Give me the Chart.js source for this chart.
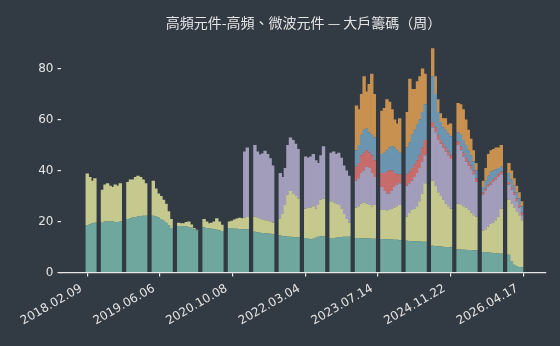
<!DOCTYPE html>
<html>
<head>
<meta charset="utf-8">
<script src="https://cdn.jsdelivr.net/npm/chart.js@4.4.0/dist/chart.umd.min.js"></script>
<style>
  html, body { margin: 0; padding: 0; background: #323a43; }
  #wrap { width: 560px; height: 346px; }
</style>
</head>
<body>
<div id="wrap"><canvas id="chart" width="560" height="346"></canvas></div>
<script>
const TITLE = '高頻元件-高頻、微波元件 — 大戶籌碼（周）';
const TICK_LABELS = ['2018.02.09', '2019.06.06', '2020.10.08', '2022.03.04', '2023.07.14', '2024.11.22', '2026.04.17'];
const TICK_STEP = 28.61;   // samples between labelled ticks

// one value per sample (about a week), null = no bar
const TEAL = [
  18.6, 18.8, 19.3, 19.5, null, null,
  19.5, 20, 20, 20, 20, 19.8, 19.8, 20, null, null,
  21, 21.3, 21.6, 21.8, 22, 22.2, 22.3, 22.3, null, null,
  22.3, 22, 21.6, 21, 20.3, 19.5, 18.5, 17.5, null, null,
  18.2, 18.2, 18, 18, 17.8, 17.6, 17, 16.5, null, null,
  17.8, 17.5, 17.3, 17.2, 17, 16.8, 16.6, 16.3, null, null,
  17.5, 17.3, 17.2, 17.2, 17.1, 17, 17, 17, null, null,
  16, 15.8, 15.6, 15.5, 15.4, 15.3, 15.2, 15, null, null,
  14.5, 14.3, 14.2, 14, 14, 13.8, 13.8, 13.7, null, null,
  13.5, 13.2, 13, 13.2, 13.6, 14, 14.2, 14.2, null, null,
  13.5, 13.5, 13.6, 13.7, 13.8, 14, 14, 14, null, null,
  13.5, 13.5, 13.4, 13.4, 13.3, 13.3, 13.2, 13.2, null, null,
  13.1, 13, 13, 12.9, 12.9, 12.8, 12.8, 12.7, null, null,
  12.5, 12.4, 12.3, 12.3, 12.2, 12.2, 12.1, 12.1, null, null,
  10.5, 10.4, 10.3, 10.2, 10.1, 10, 10, 9.9, null, null,
  9, 9, 8.9, 8.9, 8.8, 8.8, 8.7, 8.7, null, null,
  8, 7.9, 7.8, 7.7, 7.6, 7.5, 7.5, 7.4, null, null,
  7, 4.5, 3, 2.5, 2.2, 2
];
const YELLOW = [
  20.2, 18.7, 16.7, 17.5, null, null,
  13, 14.5, 15, 14, 13.5, 14.7, 14.2, 15, null, null,
  14.5, 15.2, 14.9, 15.7, 16, 15.3, 14.2, 12.7, null, null,
  13.7, 11, 9.4, 9, 8.2, 7.5, 5.5, 3.5, null, null,
  1.3, 1.1, 1.3, 1.8, 2.2, 1.2, 0.5, 0.3, null, null,
  3.2, 2.5, 2, 2.3, 3, 4.5, 3.4, 2.4, null, null,
  2.5, 3, 3.6, 4, 4.4, 4.3, 4.5, 4.8, null, null,
  6, 5.7, 5.4, 5.3, 5.1, 5, 4.8, 4.6, null, null,
  6.5, 8.7, 12.3, 16.5, 18, 17.2, 16.2, 15.3, null, null,
  11.5, 12.3, 12.5, 12.8, 11.4, 12.5, 14.3, 14.8, null, null,
  14.5, 14, 13.4, 12.8, 11.2, 9, 7, 5.5, null, null,
  12, 12.5, 13.6, 14.1, 13.7, 13.2, 12.8, 13.3, null, null,
  11.4, 11.5, 11.3, 11.6, 12.1, 12.7, 13.2, 13.8, null, null,
  9.5, 11.1, 12.2, 12.7, 13.8, 15.8, 18.9, 22.9, null, null,
  25.5, 23.6, 21.2, 19.8, 18.4, 17, 16, 15.1, null, null,
  18, 17.5, 17.1, 16.6, 15.7, 14.7, 13.8, 13.3, null, null,
  8.5, 9.1, 10.2, 11.3, 11.9, 13, 14.5, 17.6, null, null,
  21.5, 22.5, 22.5, 21.5, 20.3, 18.5
];

const LAVENDER_FROM = 62;
const LAVENDER = [
  26, 27.2, null, null,
  28, 26, 25.3, 25.9, 27.3, 26.2, 24.8, 22.4, null, null,
  18, 14.5, 14.5, 19.5, 21, 21, 20.5, 19.5, null, null,
  20.5, 19.5, 20, 20.5, 19, 16.5, 17.5, 20.5, null, null,
  19, 20, 19.5, 20.5, 20, 19, 19, 18.5, null, null,
  10.5, 11, 12, 12.5, 14.5, 14.5, 13, 11, null, null,
  9, 7.5, 6.7, 6.5, 7, 8, 8.5, 8.5, null, null,
  12, 11.5, 11.5, 12.5, 13, 13, 12.5, 11, null, null,
  21, 21, 20.5, 20.5, 20.5, 20.5, 20, 19.5, null, null,
  23, 21.5, 19.5, 18, 17.5, 17, 16, 13.5, null, null,
  14, 15, 15.5, 15.5, 16, 16, 15.5, 13.5, null, null,
  6, 5.5, 5, 4, 3, 2
];

const TOP_FROM = 106;
const RED = [
  5.5, 6, 7, 7, 6.5, 6, 7, 6.5, null, null,
  5.5, 7, 8.5, 9, 8, 5.5, 4, 3.5, null, null,
  4.5, 4.5, 5, 5, 5, 5, 5.5, 6, null, null,
  2, 2, 2, 1.5, 1.5, 1.5, 1.5, 1.5, null, null,
  1.5, 1.5, 1.5, 1.5, 1.5, 1.5, 1.5, 1.5, null, null,
  1, 1, 1, 1, 1, 1, 1, 1, null, null,
  1, 1, 1, 1, 1, 1
];
const BLUE = [
  6.5, 7, 8, 9, 8.5, 8, 8, 9, null, null,
  7.5, 8, 8.5, 9, 9.5, 10, 9.5, 8.5, null, null,
  10.5, 11.5, 13, 13.5, 14, 14, 14, 14, null, null,
  18, 13, 9, 7, 6.5, 7, 7, 7.5, null, null,
  3.5, 4.5, 5, 5, 4.5, 4, 3.5, 3, null, null,
  2, 3, 3.5, 4, 3.5, 3, 2.5, 2, null, null,
  3.5, 3, 2.5, 2.5, 2.5, 2.5
];
const ORANGE = [
  17.5, 14, 16, 21, 14.5, 19, 24, 17, null, null,
  17, 17.5, 20, 18, 14.5, 11, 10.5, 13.5, null, null,
  14, 25, 18, 16, 17, 17, 17, 12, null, null,
  11, 7, 5, 3.5, 3.5, 4.5, 3.5, 5, null, null,
  11.5, 12, 12, 10, 8, 6.5, 4.5, 3, null, null,
  2.5, 5, 8.5, 8.5, 8.5, 8.5, 8, 8.5, null, null,
  4, 3.5, 3, 2.5, 2.5, 2
];

const textColor = '#e4e4e4';
const axisColor = '#e8e8e8';

function from(start, arr) { return Array(start).fill(null).concat(arr); }

const SAMPLES = TEAL.map((_, i) => i);

const series = [
  { data: TEAL,                          color: '#6fa79f' },
  { data: YELLOW,                        color: '#c6c98e' },
  { data: from(LAVENDER_FROM, LAVENDER), color: '#a29dba' },
  { data: from(TOP_FROM, RED),           color: '#c76b6b' },
  { data: from(TOP_FROM, BLUE),          color: '#6b95b0' },
  { data: from(TOP_FROM, ORANGE),        color: '#c99150' },
];

const titlePlugin = {
  id: 'topTitle',
  afterDraw(chart) {
    const { ctx, chartArea } = chart;
    ctx.save();
    ctx.font = '14px "Noto Sans CJK TC"';
    ctx.fillStyle = textColor;
    ctx.textAlign = 'center';
    ctx.textBaseline = 'middle';
    ctx.fillText(TITLE, (chartArea.left + chartArea.right) / 2, 23);
    ctx.restore();
  }
};

new Chart(document.getElementById('chart'), {
  type: 'bar',
  data: {
    labels: SAMPLES,
    datasets: series.map(s => ({
      data: s.data,
      backgroundColor: s.color,
      borderWidth: 0,
      barThickness: 3.4,   // a little wider than the sample spacing so columns touch
      inflateAmount: 0,
    })),
  },
  options: {
    responsive: false,
    animation: false,
    events: [],
    layout: { padding: { top: 38, right: 14, bottom: 0, left: 0 } },
    plugins: { legend: { display: false }, tooltip: { enabled: false } },
    scales: {
      x: {
        type: 'linear', stacked: true, offset: false,
        min: -10.34, max: 180.6,
        grid: { offset: false, drawOnChartArea: false, drawTicks: true, tickLength: 4, color: axisColor, lineWidth: 1.2 },
        border: { display: true, color: axisColor, width: 1.3 },
        ticks: {
          color: textColor, font: { family: 'DejaVu Sans', size: 12 },
          minRotation: 30, maxRotation: 30, autoSkip: false, padding: 5, labelOffset: -6,
          callback: (v, i) => TICK_LABELS[i],
        },
        afterBuildTicks: s => { s.ticks = TICK_LABELS.map((_, k) => ({ value: k * TICK_STEP })); },
        afterFit: s => { s.height = 73.5; },
      },
      y: {
        stacked: true, min: 0, max: 92,
        grid: { drawOnChartArea: false, drawTicks: true, tickLength: 3.5, color: axisColor, lineWidth: 1.2 },
        border: { display: false },
        ticks: { stepSize: 20, includeBounds: false, color: textColor, font: { family: 'DejaVu Sans', size: 12 }, padding: 4 },
        afterFit: s => { s.width = 61; },
      },
    },
  },
  plugins: [titlePlugin],
});
</script>
</body>
</html>
